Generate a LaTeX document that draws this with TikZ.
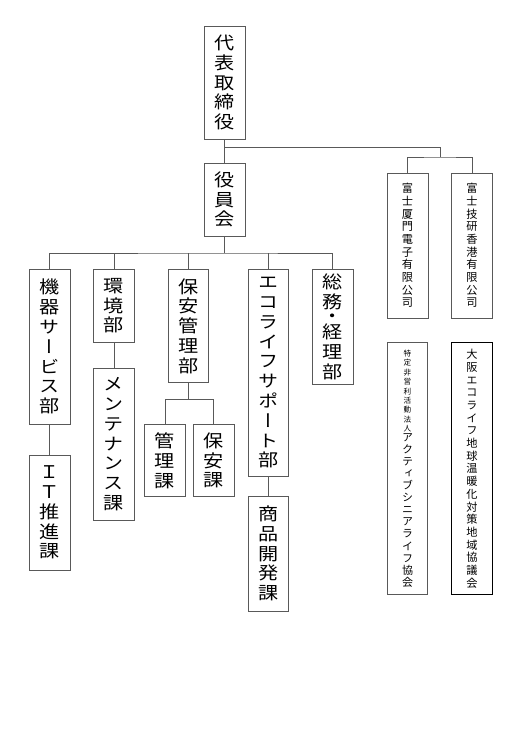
\documentclass[tikz,border=0pt]{standalone}
\usepackage{fontspec}
\newfontfamily\jpbig[RawFeature=+vert,FakeStretch=1.15]{Noto Sans CJK JP}
\newfontfamily\jp[RawFeature=+vert]{Noto Sans CJK JP}
\makeatletter
\newcommand\vstk[4]{\vbox{#1\fontsize{#2}{#3}\selectfont\baselineskip=#3\relax\lineskiplimit=-20pt\relax\@tfor\vch:=#4\do{\hbox to 24pt{\hss\vch\hss}}}}
\makeatother
\newcommand\VB[1]{\vstk{\jpbig}{17.5pt}{19.8pt}{#1}}
\newcommand\VS[1]{\vstk{\jp}{11.2pt}{12.7pt}{#1}}
\tikzset{
  box/.style={draw=black!65, line width=0.9pt, rectangle, inner sep=0pt, fill=white},
  conn/.style={draw=black!65, line width=0.9pt}
}
\begin{document}
\begin{tikzpicture}[x=1pt,y=-1pt]
\useasboundingbox[fill=white] (0,0) rectangle (516,729);
% nodes
\node[box, minimum width=41pt, minimum height=113pt] (ceo) at (224.5,82.5) {\VB{代表取締役}};
\node[box, minimum width=41pt, minimum height=73pt] (board) at (224.5,199.5) {\VB{役員会}};
\node[box, minimum width=41pt, minimum height=145pt] (fuji1) at (407.5,245.5) {\VS{富士厦門電子有限公司}};
\node[box, minimum width=41pt, minimum height=145pt] (fuji2) at (472,245.5) {\VS{富士技研香港有限公司}};
\node[box, minimum width=41pt, minimum height=154.5pt] (kiki) at (49.5,346.75) {\VB{機器サービス部}};
\node[box, minimum width=41pt, minimum height=115pt] (it) at (49.5,512.5) {\VB{ＩＴ推進課}};
\node[box, minimum width=41pt, minimum height=72.5pt] (kankyo) at (114,305.75) {\VB{環境部}};
\node[box, minimum width=41pt, minimum height=152.5pt] (maint) at (114,444.25) {\VB{メンテナンス課}};
\node[box, minimum width=40.5pt, minimum height=113pt] (hoan) at (188.25,326) {\VB{保安管理部}};
\node[box, minimum width=40.6pt, minimum height=72.4pt] (kanri) at (165,460.5) {\VB{管理課}};
\node[box, minimum width=40.7pt, minimum height=72.4pt] (hoanka) at (213.65,460.5) {\VB{保安課}};
\node[box, minimum width=40.4pt, minimum height=206.5pt] (eco) at (268.5,372.75) {\VB{エコライフサポート部}};
\node[box, minimum width=40.4pt, minimum height=115pt] (shohin) at (268.5,553.5) {\VB{商品開発課}};
\node[box, minimum width=40.3pt, minimum height=114.5pt] (somu) at (332.85,326.75) {\vbox{\baselineskip=14.1pt\lineskiplimit=-20pt\relax\VB{総務}\VB{・}\VB{経理部}}};
\node[box, minimum width=40.4pt, minimum height=252pt] (npo) at (407.5,468.7) {\vbox{\baselineskip=10.6pt\lineskiplimit=-20pt\relax\vstk{\jp}{7.6pt}{9.4pt}{特定非営利活動法人}\vstk{\jp}{11pt}{12.1pt}{アクティブシニアライフ協会}}};
\node[box, draw=black, minimum width=40.6pt, minimum height=252pt] (osaka) at (472,468.7) {\VS{大阪エコライフ地球温暖化対策地域協議会}};
% junctions
\coordinate (j1) at (224.5,147);
\coordinate (j2) at (440,157);
\coordinate (j3) at (224.5,253);
\coordinate (j4) at (189.5,399.3);
% connectors
\draw[conn] (ceo.south) -- (board.north);
\draw[conn] (j1) -| (j2);
\draw[conn] (fuji1.north) |- (j2) -| (fuji2.north);
\draw[conn] (board.south) -- (j3);
\draw[conn] (kiki.north) |- (j3) -| (somu.north);
\draw[conn] (kankyo.north) -- (kankyo.north |- j3);
\draw[conn] (hoan.north) -- (hoan.north |- j3);
\draw[conn] (eco.north) -- (eco.north |- j3);
\draw[conn] (kiki.south) -- (it.north);
\draw[conn] (kankyo.south) -- (maint.north);
\draw[conn] (hoan.south) -- (hoan.south |- j4);
\draw[conn] (kanri.north) |- (j4) -| (hoanka.north);
\draw[conn] (eco.south) -- (shohin.north);
\end{tikzpicture}
\end{document}
